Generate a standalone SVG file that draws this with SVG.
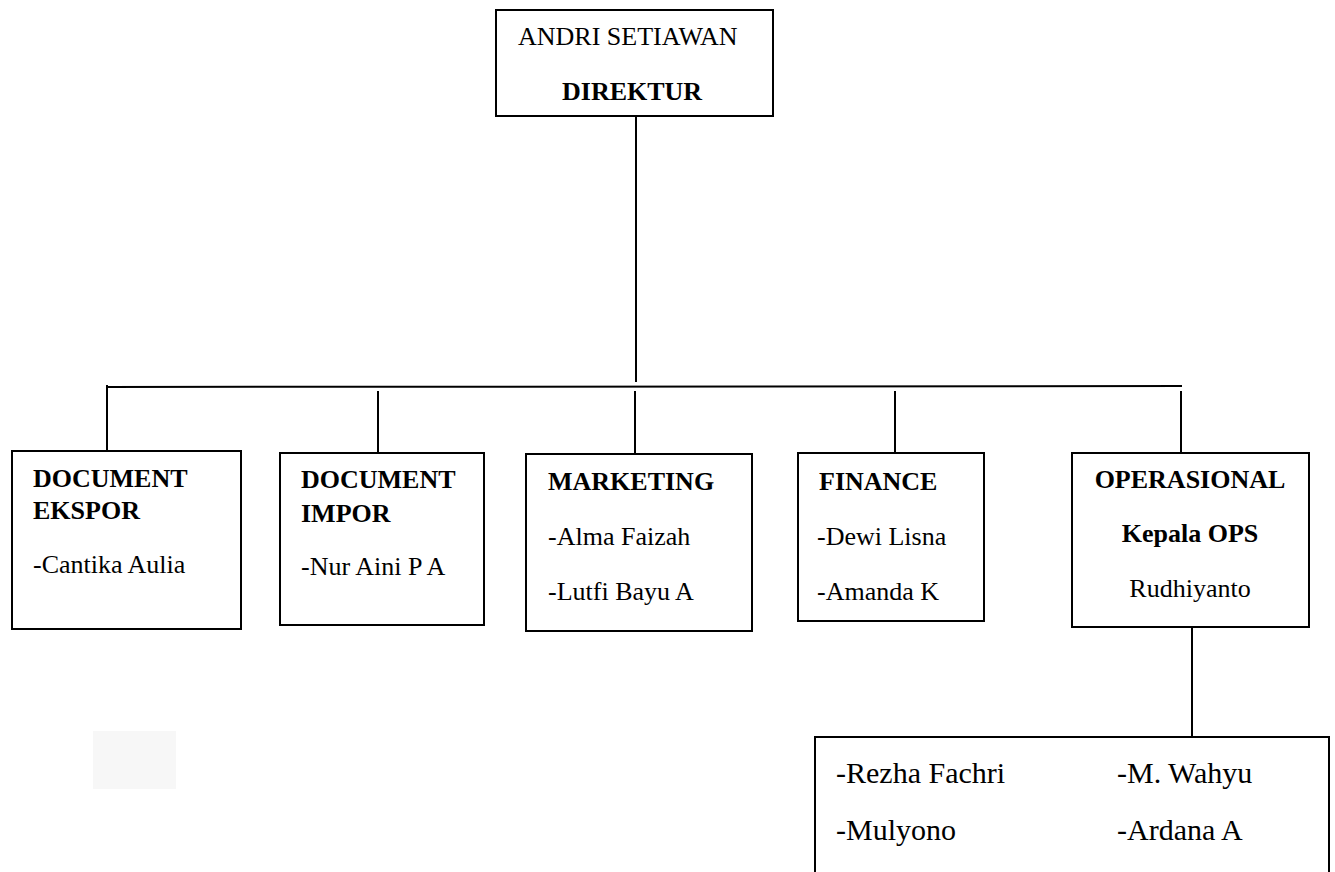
<svg xmlns="http://www.w3.org/2000/svg" width="1335" height="872" viewBox="0 0 1335 872">
<style>
.box{fill:#fff;stroke:#000;stroke-width:2}
.ln{stroke:#000;stroke-width:2;fill:none}
text{font-family:"Liberation Serif","Times New Roman",serif;font-size:26px;fill:#000}
.b{font-weight:bold}
.big{font-size:30px}
.c{text-anchor:middle}
</style>
<rect width="1335" height="872" fill="#fff"/>
<rect x="93" y="731" width="83" height="58" fill="#f7f7f7"/>
<g id="connectors">
<line class="ln" x1="636" y1="116" x2="636" y2="382"/>
<line class="ln" x1="107" y1="387" x2="1182" y2="386"/>
<line class="ln" x1="107" y1="385" x2="107" y2="451"/>
<line class="ln" x1="378" y1="391" x2="378" y2="453"/>
<line class="ln" x1="635" y1="391" x2="635" y2="454"/>
<line class="ln" x1="895" y1="391" x2="895" y2="453"/>
<line class="ln" x1="1181" y1="391" x2="1181" y2="453"/>
<line class="ln" x1="1192" y1="627" x2="1192" y2="737"/>
</g>
<g id="direktur">
<rect class="box" x="496" y="10" width="277" height="106"/>
<text x="518" y="45">ANDRI SETIAWAN</text>
<text class="b" x="562" y="100">DIREKTUR</text>
</g>
<g id="doc-ekspor">
<rect class="box" x="12" y="451" width="229" height="178"/>
<text class="b" x="33" y="487">DOCUMENT</text>
<text class="b" x="33" y="519">EKSPOR</text>
<text x="33" y="573">-Cantika Aulia</text>
</g>
<g id="doc-impor">
<rect class="box" x="280" y="453" width="204" height="172"/>
<text class="b" x="301" y="488">DOCUMENT</text>
<text class="b" x="301" y="522">IMPOR</text>
<text x="301" y="575">-Nur Aini P A</text>
</g>
<g id="marketing">
<rect class="box" x="526" y="454" width="226" height="177"/>
<text class="b" x="548" y="490">MARKETING</text>
<text x="548" y="545">-Alma Faizah</text>
<text x="548" y="600">-Lutfi Bayu A</text>
</g>
<g id="finance">
<rect class="box" x="798" y="453" width="186" height="168"/>
<text class="b" x="819" y="490">FINANCE</text>
<text x="817" y="545">-Dewi Lisna</text>
<text x="817" y="600">-Amanda K</text>
</g>
<g id="operasional">
<rect class="box" x="1072" y="453" width="237" height="174"/>
<text class="b c" x="1190" y="488">OPERASIONAL</text>
<text class="b c" x="1190" y="542">Kepala OPS</text>
<text class="c" x="1190" y="597">Rudhiyanto</text>
</g>
<g id="staff-ops">
<path class="ln" d="M815,873 V737 H1329 V873"/>
<text class="big" x="836" y="783">-Rezha Fachri</text>
<text class="big" x="1117" y="783">-M. Wahyu</text>
<text class="big" x="836" y="840">-Mulyono</text>
<text class="big" x="1117" y="840">-Ardana A</text>
</g>
</svg>
